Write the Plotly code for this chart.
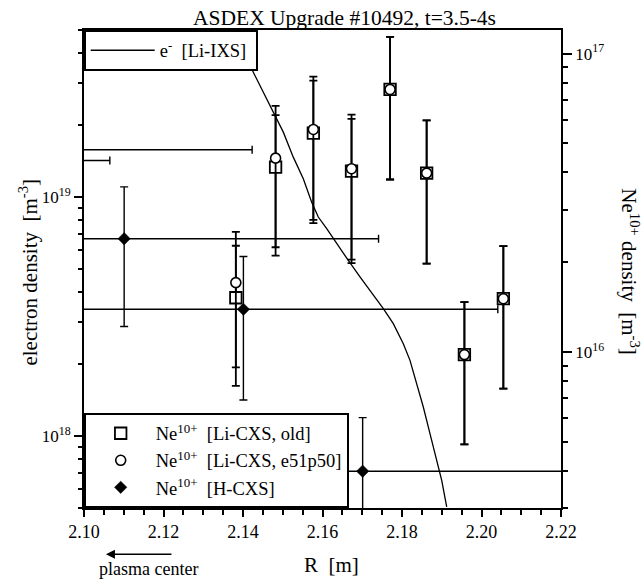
import plotly.graph_objects as go

# --- electron density profile, Li-IXS (left axis) ---
ne_R = [2.1400, 2.14805, 2.15014, 2.15265, 2.15517, 2.15728, 2.15894, 2.16106,
        2.16357, 2.16649, 2.16943, 2.17195, 2.17530, 2.17781, 2.18033, 2.18201,
        2.18370, 2.18536, 2.18704, 2.18873, 2.18999, 2.19125]
ne_val = [4.06e19, 2.195e19, 1.869e19, 1.469e19, 1.193e19, 9.52e18, 8.25e18, 7.37e18,
          6.38e18, 5.43e18, 4.63e18, 4.07e18, 3.41e18, 2.953e18, 2.435e18, 2.074e18,
          1.658e18, 1.323e18, 1.024e18, 7.92e17, 6.53e17, 5.05e17]

# --- Ne10+ density, Li-CXS "old" evaluation (right axis) ---
old_R = [2.1382, 2.1482, 2.1577, 2.1673, 2.1770, 2.1862, 2.1957, 2.2055]
old_val = [1.52e16, 4.165e16, 5.414e16, 4.04e16, 7.585e16, 3.977e16, 9.80e15, 1.509e16]
old_err = [0.75e16, 2.06e16, 2.71e16, 2.00e16, 3.80e16, 2.00e16, 4.9e15, 7.55e15]

# --- Ne10+ density, Li-CXS e51p50 evaluation (right axis) ---
new_R = [2.1382, 2.1482, 2.1577, 2.1673, 2.1770, 2.1862, 2.1957, 2.2055]
new_val = [1.708e16, 4.464e16, 5.57e16, 4.114e16, 7.585e16, 3.977e16, 9.80e15, 1.509e16]
new_err = [0.82e16, 2.22e16, 2.80e16, 2.13e16, 3.80e16, 2.00e16, 4.9e15, 7.55e15]

# --- Ne10+ density, H-CXS (right axis) ---
h_R = [2.0425, 2.0783, 2.1101, 2.1401, 2.1701]
h_val = [4.385e16, 4.764e16, 2.397e16, 1.39e16, 3.984e15]
h_err = [2.0e16, 2.2e16, 1.18e16, 7.0e15, 2.04e15]
h_Rerr = [0.064, 0.064, 0.064, 0.064, 0.064]

# axis ticks
x_ticks = [2.10, 2.12, 2.14, 2.16, 2.18, 2.20, 2.22]
y1_ticks = [1e18, 1e19]
y1_ticktext = ["10<sup>18</sup>", "10<sup>19</sup>"]
y2_ticks = [1e16, 1e17]
y2_ticktext = ["10<sup>16</sup>", "10<sup>17</sup>"]
y1_minor = [m * 10.0 ** e for e in (17, 18, 19) for m in range(2, 10)]
y2_minor = [m * 10.0 ** e for e in (15, 16, 17) for m in range(2, 10)]

FONT = "Liberation Serif"
NB = "\u00a0"

fig = go.Figure()

fig.add_trace(go.Scatter(
    x=ne_R, y=ne_val, mode="lines", yaxis="y",
    line=dict(color="black", width=1.3),
    name="e<sup>-</sup>" + NB * 2 + "[Li-IXS]" + NB, legend="legend",
))

fig.add_trace(go.Scatter(
    x=old_R, y=old_val, mode="markers", yaxis="y2",
    marker=dict(symbol="square", size=11.5, color="white",
                line=dict(color="black", width=1.8)),
    error_y=dict(type="data", array=old_err, color="black", thickness=1.8, width=4),
    name="Ne<sup>10+</sup>" + NB * 2 + "[Li-CXS, old]", legend="legend2",
))

fig.add_trace(go.Scatter(
    x=new_R, y=new_val, mode="markers", yaxis="y2",
    marker=dict(symbol="circle", size=10, color="white",
                line=dict(color="black", width=1.6)),
    error_y=dict(type="data", array=new_err, color="black", thickness=1.8, width=4),
    name="Ne<sup>10+</sup>" + NB * 2 + "[Li-CXS, e51p50]", legend="legend2",
))

fig.add_trace(go.Scatter(
    x=h_R, y=h_val, mode="markers", yaxis="y2",
    marker=dict(symbol="diamond", size=9.5, color="black",
                line=dict(color="black", width=0.5)),
    error_y=dict(type="data", array=h_err, color="black", thickness=1.4, width=4),
    error_x=dict(type="data", array=h_Rerr, color="black", thickness=1.4, width=4),
    name="Ne<sup>10+</sup>" + NB * 2 + "[H-CXS]", legend="legend2",
))

axis_font = dict(family=FONT, size=18, color="black")

fig.update_layout(
    width=642, height=579,
    margin=dict(l=84, r=81, t=30, b=71),
    paper_bgcolor="white", plot_bgcolor="white",
    font=dict(family=FONT, size=18, color="black"),
    showlegend=True,
    xaxis=dict(
        range=[2.10, 2.22], tickvals=x_ticks, tickformat=".2f",
        ticks="outside", ticklen=7, tickwidth=1.5, tickcolor="black",
        minor=dict(dtick=0.005, ticks="outside", ticklen=5, tickwidth=1.5, tickcolor="black"),
        showline=True, linewidth=1.7, linecolor="black", mirror=True,
        showgrid=False, zeroline=False, tickfont=axis_font,
    ),
    yaxis=dict(
        type="log", range=[17.69897, 19.69897],
        tickvals=y1_ticks, ticktext=y1_ticktext,
        ticks="outside", ticklen=8, tickwidth=1.5, tickcolor="black",
        minor=dict(tickmode="array", tickvals=y1_minor, ticks="outside",
                   ticklen=4, tickwidth=1.5, tickcolor="black"),
        showline=True, linewidth=1.7, linecolor="black",
        showgrid=False, zeroline=False, tickfont=dict(family=FONT, size=17, color="black"),
    ),
    yaxis2=dict(
        type="log", range=[15.47712, 17.07918], overlaying="y", side="right",
        tickvals=y2_ticks, ticktext=y2_ticktext,
        ticks="outside", ticklen=9, tickwidth=1.5, tickcolor="black",
        minor=dict(tickmode="array", tickvals=y2_minor, ticks="outside",
                   ticklen=5, tickwidth=1.5, tickcolor="black"),
        showline=True, linewidth=1.7, linecolor="black",
        showgrid=False, zeroline=False, tickfont=dict(family=FONT, size=17, color="black"),
    ),
    legend=dict(
        x=0, y=1, xanchor="left", yanchor="top",
        bgcolor="white", bordercolor="black", borderwidth=1.7,
        font=dict(family=FONT, size=18.5, color="black"),
        itemwidth=64,
    ),
    legend2=dict(
        x=0, y=0, xanchor="left", yanchor="bottom",
        bgcolor="white", bordercolor="black", borderwidth=1.7,
        font=dict(family=FONT, size=18.5, color="black"),
        itemwidth=60, tracegroupgap=0,
    ),
    annotations=[
        dict(text="ASDEX Upgrade #10492, t=3.5-4s", xref="paper", yref="paper",
             x=0.546, y=1.025, xanchor="center", yanchor="middle", showarrow=False,
             font=dict(family=FONT, size=21.5, color="black")),
        dict(text="electron density" + NB * 2 + "[m<sup>-3</sup>]", xref="paper", yref="paper",
             x=-0.117, y=0.493, xanchor="center", yanchor="middle", textangle=-90,
             showarrow=False, font=dict(family=FONT, size=21, color="black")),
        dict(text="Ne<sup>10+</sup> density" + NB * 2 + "[m<sup>-3</sup>]", xref="paper", yref="paper",
             x=1.1447, y=0.495, xanchor="center", yanchor="middle", textangle=90,
             showarrow=False, font=dict(family=FONT, size=21, color="black")),
        dict(text="R" + NB * 2 + "[m]", xref="paper", yref="paper",
             x=0.518, y=-0.12, xanchor="center", yanchor="middle",
             showarrow=False, font=dict(family=FONT, size=21, color="black")),
        dict(text="plasma center", xref="paper", yref="paper",
             x=0.1356, y=-0.128, xanchor="center", yanchor="middle",
             showarrow=False, font=dict(family=FONT, size=18, color="black")),
        dict(text="", xref="paper", yref="paper", x=0.046, y=-0.0968,
             ax=67, ay=0, showarrow=True, arrowhead=2, arrowsize=1.2,
             arrowwidth=1.5, arrowcolor="black", standoff=0),
    ],
)

fig.write_html("out.html")
